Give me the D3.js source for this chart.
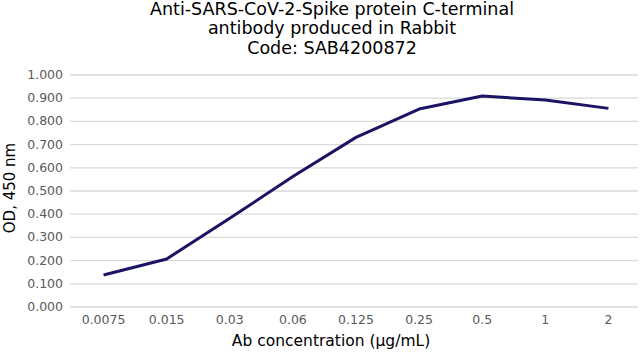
<!DOCTYPE html>
<html>
<head>
<meta charset="utf-8">
<script src="https://cdn.jsdelivr.net/npm/d3@7"></script>
<style>
  body { margin: 0; background: #fff; }
  svg { display: block; font-family: Verdana, "DejaVu Sans", sans-serif; }
</style>
</head>
<body>
<div id="chart"></div>
<script>
const titleLines = [
    "Anti-SARS-CoV-2-Spike protein C-terminal",
    "antibody produced in Rabbit",
    "Code: SAB4200872"
];
const concentrations = ["0.0075", "0.015", "0.03", "0.06", "0.125", "0.25", "0.5", "1", "2"];
const odValues = [0.136, 0.205, 0.380, 0.560, 0.729, 0.851, 0.907, 0.890, 0.854];
const yTicks = [0, 0.1, 0.2, 0.3, 0.4, 0.5, 0.6, 0.7, 0.8, 0.9, 1.0];

const width = 640, height = 352;
const margin = {top: 74.5, right: 0, bottom: 45.5, left: 72};
const gridLeft = 70, gridRight = 638;

const svg = d3.select("#chart").append("svg")
    .attr("width", width)
    .attr("height", height);

const x = d3.scaleBand()
    .domain(concentrations)
    .range([margin.left, width - margin.right]);

const y = d3.scaleLinear()
    .domain([0, 1])
    .range([height - margin.bottom, margin.top]);

// title
svg.append("g").selectAll("text")
    .data(titleLines)
    .enter().append("text")
        .attr("x", 332)
        .attr("y", (d, i) => 15 + i * 19.3)
        .attr("text-anchor", "middle")
        .attr("font-size", 17.5)
        .attr("fill", "#000")
        .text(d => d);

// gridlines + y labels
const yAxis = d3.axisLeft(y)
    .tickValues(yTicks)
    .tickSize(-(gridRight - gridLeft))
    .tickPadding(7)
    .tickFormat(d3.format(".3f"));

svg.append("g")
    .attr("transform", `translate(${gridLeft},0)`)
    .call(yAxis)
    .call(g => g.select(".domain").remove())
    .call(g => g.selectAll("line").attr("stroke", "#d9d9d9").attr("stroke-width", 1.3))
    .call(g => g.selectAll("text").attr("fill", "#595959").attr("font-size", 12.5)
        .attr("font-family", "Verdana, DejaVu Sans, sans-serif"));

// x labels
const xAxis = d3.axisBottom(x).tickSize(0).tickPadding(8.6);
svg.append("g")
    .attr("transform", `translate(0,${height - margin.bottom})`)
    .call(xAxis)
    .call(g => g.select(".domain").remove())
    .call(g => g.selectAll("text").attr("fill", "#595959").attr("font-size", 12.5)
        .attr("font-family", "Verdana, DejaVu Sans, sans-serif"));

// axis titles
svg.append("text")
    .attr("transform", "translate(15,188) rotate(-90)")
    .attr("text-anchor", "middle")
    .attr("font-size", 15)
    .attr("fill", "#000")
    .text("OD, 450 nm");

svg.append("text")
    .attr("x", 331)
    .attr("y", 346)
    .attr("text-anchor", "middle")
    .attr("font-size", 15.5)
    .attr("fill", "#000")
    .text("Ab concentration (µg/mL)");

// line
const line = d3.line()
    .x((d, i) => x(concentrations[i]) + x.bandwidth() / 2)
    .y(d => y(d));

svg.append("path")
    .datum(odValues)
    .attr("fill", "none")
    .attr("stroke", "#1b1464")
    .attr("stroke-width", 3)
    .attr("stroke-linejoin", "round")
    .attr("d", line);
</script>
</body>
</html>
